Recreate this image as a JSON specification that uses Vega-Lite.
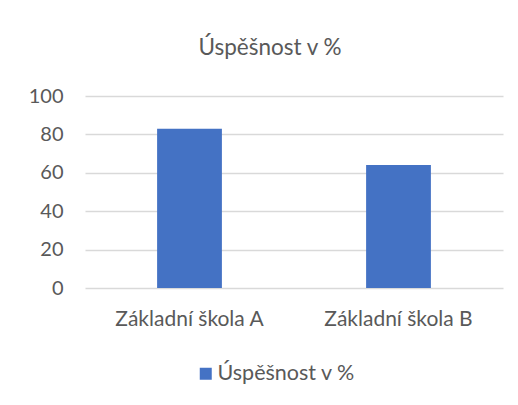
{
  "$schema": "https://vega.github.io/schema/vega-lite/v6.json",
  "width": 418,
  "height": 192,
  "autosize": {"type": "none"},
  "padding": {"left": 85, "top": 96, "right": 15, "bottom": 117},
  "background": "white",
  "title": {
    "text": "Úspěšnost v %",
    "font": "Lato",
    "fontSize": 22.5,
    "fontWeight": "normal",
    "color": "#595959",
    "anchor": "middle",
    "frame": "group",
    "dx": -24,
    "baseline": "alphabetic",
    "offset": 9
  },
  "data": {
    "values": [
      {"skola": "Základní škola A", "uspesnost": 83, "serie": "Úspěšnost v %"},
      {"skola": "Základní škola B", "uspesnost": 64, "serie": "Úspěšnost v %"}
    ]
  },
  "mark": {"type": "bar", "color": "#4472C4"},
  "encoding": {
    "x": {
      "field": "skola",
      "type": "nominal",
      "sort": null,
      "scale": {"paddingInner": 0.69, "paddingOuter": 0.345},
      "axis": {
        "title": null,
        "labelAngle": 0,
        "labelFont": "Lato",
        "labelFontSize": 21,
        "labelColor": "#595959",
        "labelPadding": 20,
        "ticks": false,
        "domain": false,
        "grid": false
      }
    },
    "y": {
      "field": "uspesnost",
      "type": "quantitative",
      "scale": {"domain": [0, 100]},
      "axis": {
        "title": null,
        "values": [0, 20, 40, 60, 80, 100],
        "labelFont": "Lato",
        "labelFontSize": 20,
        "labelColor": "#595959",
        "labelPadding": 22,
        "ticks": false,
        "domain": false,
        "grid": true,
        "gridColor": "#D9D9D9",
        "gridWidth": 1.3
      }
    },
    "color": {
      "field": "serie",
      "type": "nominal",
      "scale": {"range": ["#4472C4"]},
      "legend": {
        "title": null,
        "orient": "none",
        "legendX": 110,
        "legendY": 267,
        "symbolType": "square",
        "symbolSize": 144,
        "symbolStrokeWidth": 0,
        "labelFont": "Lato",
        "labelFontSize": 21.5,
        "labelColor": "#595959",
        "labelOffset": 1
      }
    }
  },
  "config": {"view": {"stroke": null}}
}
